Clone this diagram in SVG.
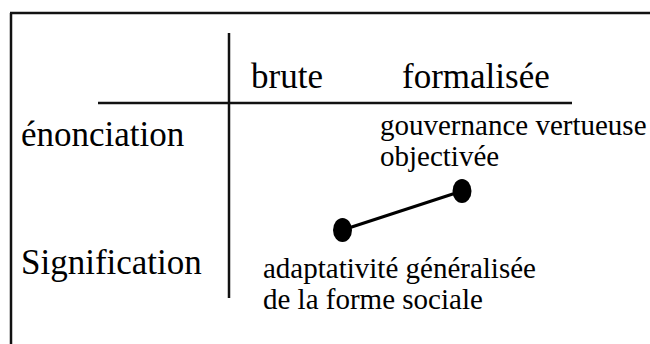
<svg xmlns="http://www.w3.org/2000/svg" width="650" height="344" viewBox="0 0 650 344">
<rect width="650" height="344" fill="#fff"/>
<g id="labels">
<text x="251" y="88" font-family="Liberation Serif" font-size="35">brute</text>
<text x="402" y="88" font-family="Liberation Serif" font-size="35">formalisée</text>
<text x="21" y="146" font-family="Liberation Serif" font-size="35">énonciation</text>
<text x="21" y="274" font-family="Liberation Serif" font-size="35">Signification</text>
</g>
<g id="node-gouvernance">
<text x="380" y="135" font-family="Liberation Serif" font-size="29">gouvernance vertueuse</text>
<text x="380" y="166" font-family="Liberation Serif" font-size="29">objectivée</text>
</g>
<g id="node-adaptativite">
<text x="263" y="278" font-family="Liberation Serif" font-size="29">adaptativité généralisée</text>
<text x="263" y="309" font-family="Liberation Serif" font-size="29">de la forme sociale</text>
</g>
<g id="frame" stroke="#111" stroke-width="2.5">
<line x1="11" y1="13" x2="11" y2="344"/>
<line x1="10" y1="13" x2="650" y2="13"/>
</g>
<g id="axes" stroke="#111" stroke-width="2.5">
<line x1="229" y1="33" x2="229" y2="298"/>
<line x1="98" y1="103" x2="572" y2="103"/>
</g>
<g id="dots" fill="#000">
<ellipse cx="462" cy="191" rx="9.5" ry="12"/>
<ellipse cx="342.5" cy="230" rx="9.5" ry="12"/>
</g>
<g id="connectors"><line x1="342.5" y1="230" x2="462" y2="191" stroke="#000" stroke-width="3"/></g>
</svg>
